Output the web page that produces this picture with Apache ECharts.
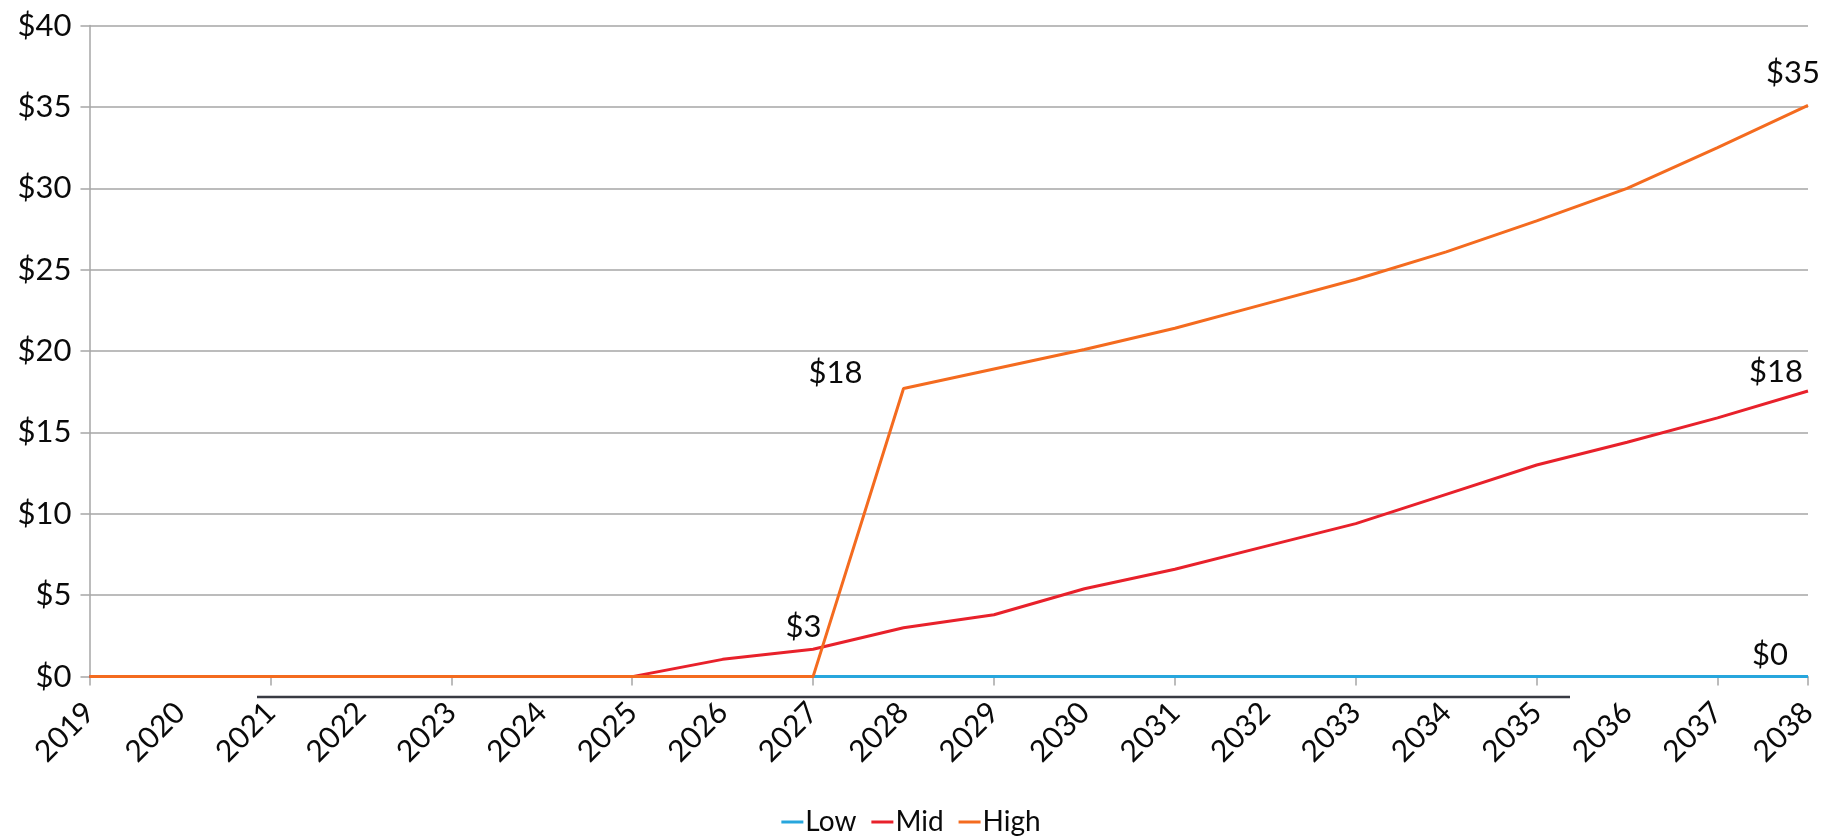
<!DOCTYPE html>
<html>
<head>
<meta charset="utf-8">
<title>Low / Mid / High price paths, 2019–2038</title>
<script src="https://cdn.jsdelivr.net/npm/echarts@6/dist/echarts.min.js"></script>
<style>
  html, body { margin: 0; padding: 0; background: #ffffff; }
  #chart { width: 1822px; height: 836px; }
</style>
</head>
<body>
<div id="chart"></div>
<script>
// Years on the category axis
const years = ['2019', '2020', '2021', '2022', '2023', '2024', '2025', '2026', '2027', '2028',
               '2029', '2030', '2031', '2032', '2033', '2034', '2035', '2036', '2037', '2038'];

// Scenario values ($)
const lowValues  = [0, 0, 0, 0, 0, 0, 0, 0, 0, 0, 0, 0, 0, 0, 0, 0, 0, 0, 0, 0];
const midValues  = [0, 0, 0, 0, 0, 0, 0, 1.06, 1.68, 3.0, 3.8, 5.4, 6.6, 8.0, 9.4, 11.2, 13.0, 14.4, 15.9, 17.55];
const highValues = [0, 0, 0, 0, 0, 0, 0, 0, 0, 17.7, 18.9, 20.1, 21.4, 22.9, 24.4, 26.1, 28.0, 30.0, 32.5, 35.1];

// Y-axis ticks
const yMin = 0, yMax = 40, yStep = 5;

const seriesNames = ['Low', 'Mid', 'High'];
const seriesColors = ['#27a6dd', '#e8212b', '#f46b1f'];

// Which points carry a value label, and where the label sits relative to the point
const labelSpots = [
  { series: 'High', year: '2028', offset: [-68, -16] },
  { series: 'Mid',  year: '2028', offset: [-100, -1] },
  { series: 'High', year: '2038', offset: [-15, -32] },
  { series: 'Mid',  year: '2038', offset: [-32, -19] },
  { series: 'Low',  year: '2038', offset: [-38, -22] }
];

const FONT = 'Lato, "Open Sans", "Noto Sans", sans-serif';
const TEXT = '#0a0a0a';
const FS = 31;

function money(v) { return '$' + Math.round(v); }

function buildData(name, values) {
  return values.map((v, i) => {
    const spot = labelSpots.find(s => s.series === name && s.year === years[i]);
    if (!spot) return v;
    return {
      value: v,
      label: {
        show: true,
        position: 'inside',
        offset: spot.offset,
        formatter: p => money(p.value),
        fontFamily: FONT,
        fontSize: FS,
        color: TEXT
      }
    };
  });
}

const valueSets = { Low: lowValues, Mid: midValues, High: highValues };

const chart = echarts.init(document.getElementById('chart'), null, { renderer: 'canvas' });

chart.setOption({
  animation: false,
  backgroundColor: '#ffffff',
  grid: {
    left: 89.5, right: 14, top: 25.6, bottom: 159.4,
    containLabel: false,
    outerBoundsMode: 'none'
  },
  legend: {
    data: seriesNames,
    top: 803,
    left: 'center',
    icon: 'rect',
    itemWidth: 22,
    itemHeight: 3,
    itemGap: 15,
    textStyle: { fontFamily: FONT, fontSize: 28, color: TEXT, padding: [0, 0, 0, -3] }
  },
  xAxis: {
    type: 'category',
    data: years,
    boundaryGap: false,
    axisLine: { show: true, lineStyle: { color: '#a6a6a6', width: 1.5 } },
    axisTick: { show: true, interval: 1, length: 9, lineStyle: { color: '#a6a6a6', width: 1.5 } },
    axisLabel: {
      interval: 0,
      rotate: 45,
      margin: 31,
      fontFamily: FONT,
      fontSize: 30,
      color: TEXT
    },
    splitLine: { show: false }
  },
  yAxis: {
    type: 'value',
    min: yMin,
    max: yMax,
    interval: yStep,
    axisLine: { show: true, lineStyle: { color: '#a6a6a6', width: 1.5 } },
    axisTick: { show: true, length: 9, lineStyle: { color: '#a6a6a6', width: 1.5 } },
    axisLabel: {
      margin: 18,
      formatter: v => '$' + v,
      fontFamily: FONT,
      fontSize: FS,
      color: TEXT
    },
    splitLine: { show: true, lineStyle: { color: '#a6a6a6', width: 1.5 } }
  },
  series: seriesNames.map((name, k) => ({
    name: name,
    type: 'line',
    data: buildData(name, valueSets[name]),
    color: seriesColors[k],
    lineStyle: { color: seriesColors[k], width: 3 },
    symbol: 'circle',
    symbolSize: 0,
    showSymbol: true,
    showAllSymbol: true,
    label: { show: false },
    emphasis: { disabled: true },
    z: 2 + k
  })),
  // dark rule running under the axis
  graphic: [{
    type: 'line',
    silent: true,
    shape: { x1: 257, y1: 697, x2: 1570, y2: 697 },
    style: { stroke: '#383b43', lineWidth: 2.5 }
  }]
});
</script>
</body>
</html>
